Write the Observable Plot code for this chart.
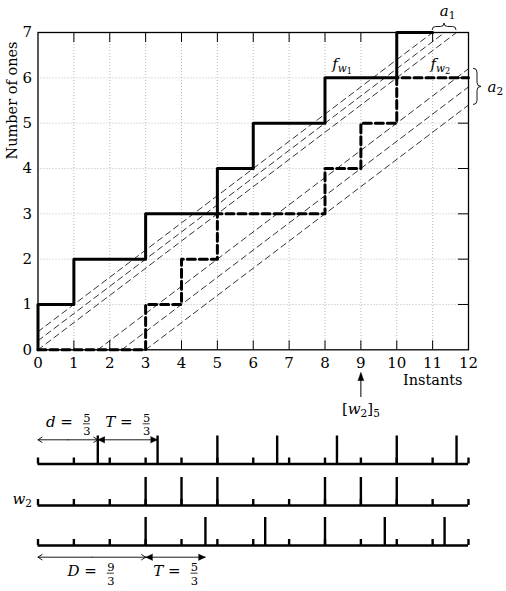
<!DOCTYPE html>
<html><head><meta charset="utf-8">
<script src="https://cdn.jsdelivr.net/npm/d3@7"></script>
<script src="https://cdn.jsdelivr.net/npm/@observablehq/plot@0.6"></script>
<style>
html,body{margin:0;padding:0;background:#fff;}
#chart svg{display:block;}
</style>
</head><body><div id="chart"></div>
<script>
// ---------------- data ----------------
const instants = [0,1,2,3,4,5,6,7,8,9,10,11,12];
const countTicks = [0,1,2,3,4,5,6,7];
const w1Jumps = [0,1,3,5,6,8,10];   // instants where f_w1 steps up
const w1End = 11;
const w2Jumps = [3,4,5,8,9,10];     // instants where f_w2 steps up
const w2End = 12;
const rate = 3/5;                   // 1 one every T = 5/3 instants
const boundOffsets = [0.4, 0.2, 0, -1, -1.4, -1.8];
const upperRowOnes = [5/3, 10/3, 15/3, 20/3, 25/3, 30/3, 35/3];
const w2RowOnes = [3,4,5,8,9,10];
const lowerRowOnes = [9/3, 14/3, 19/3, 24/3, 29/3, 34/3];
const spanVars = ["d","T","D","T"];
const spanStart = [0, 5/3, 0, 9/3];
const spanEnd = [5/3, 10/3, 9/3, 14/3];
const spanNum = ["5","5","9","5"];
const spanDen = ["3","3","3","3"];
const spanRow = [0,0,2,2];
const spanHead = ["open","filled","open","filled"];
const markedInstant = 9;

// ---------------- layout ----------------
const W = 506, H = 591, ML = 37.5, MR = 38, MT = 32, MB = 241.7;
const XMAX = 12, YMAX = 7;
const KX = XMAX / (W - ML - MR);   // data units per pixel
const KY = YMAX / (H - MT - MB);
const rowPx = [114.2, 155.7, 195.7];          // px below the x axis
const rowY = rowPx.map(p => -p * KY);
const arrowY = [rowY[0] + 24.2 * KY, null, rowY[2] - 11.7 * KY];
const labelShift = [16, null, -16];            // px (up positive)

// ---------------- derived tables ----------------
function cumulative(jumps, end) {
  const pts = [{x: 0, y: 0}];
  jumps.forEach((t, i) => pts.push({x: t, y: i + 1}));
  pts.push({x: end, y: jumps.length});
  return pts;
}
const w1Pts = cumulative(w1Jumps, w1End);
const w2Pts = cumulative(w2Jumps, w2End);

const boundPts = boundOffsets.flatMap(b => {
  const x0 = Math.max(0, -b / rate), x1 = Math.min(XMAX, (YMAX - b) / rate);
  return [{b, x: x0, y: rate * x0 + b}, {b, x: x1, y: rate * x1 + b}];
});

const inner = instants.slice(1, -1);
const innerY = countTicks.slice(1, -1);

const rowOnes = [upperRowOnes, w2RowOnes, lowerRowOnes];
const smallTicks = rowY.flatMap(y => instants.map(x => ({x, y})));
const bigTicks = rowOnes.flatMap((ones, r) => ones.map(x => ({x, y: rowY[r]})));

const spans = spanVars.map((v, i) => {
  const y = arrowY[spanRow[i]];
  return {v, x1: spanStart[i], x2: spanEnd[i], mid: (spanStart[i] + spanEnd[i]) / 2,
          y, bar: y + labelShift[spanRow[i]] * KY, num: spanNum[i], den: spanDen[i], head: spanHead[i]};
});
const openSpans = spans.filter(s => s.head === "open");
const filledSpans = spans.filter(s => s.head === "filled");
const filledHeads = filledSpans.flatMap(s => [{x: s.x1, y: s.y, rot: -90}, {x: s.x2, y: s.y, rot: 90}]);

const a1Mid = ((YMAX - boundOffsets[0]) / rate + (YMAX - boundOffsets[2]) / rate) / 2;

const black = "black";
const grid = {stroke: "#a8a8a8", strokeOpacity: 1, strokeDasharray: "1,2", strokeWidth: 0.8};

const plot = Plot.plot({
  width: W, height: H,
  marginLeft: ML, marginRight: MR, marginTop: MT, marginBottom: MB,
  x: {domain: [0, XMAX]},
  y: {domain: [0, YMAX]},
  style: {fontFamily: "'DejaVu Serif', serif", fontSize: "15px", color: "black", background: "white", overflow: "visible"},
  marks: [
    Plot.gridX(inner, grid),
    Plot.gridY(innerY, grid),
    Plot.line(boundPts, {x: "x", y: "y", z: "b", stroke: black, strokeWidth: 0.8, strokeDasharray: "6,4"}),
    Plot.line(w2Pts, {x: "x", y: "y", curve: "step-after", stroke: black, strokeWidth: 3, strokeDasharray: "8,4"}),
    Plot.line(w1Pts, {x: "x", y: "y", curve: "step-after", stroke: black, strokeWidth: 3}),
    Plot.frame({stroke: black, strokeWidth: 1.3}),
    Plot.ruleX(inner, {y1: 0, y2: 9 * KY, stroke: black, strokeWidth: 1}),
    Plot.ruleX(inner, {y1: YMAX, y2: YMAX - 10 * KY, stroke: black, strokeWidth: 1}),
    Plot.ruleY(innerY, {x1: XMAX, x2: XMAX - 10 * KX, stroke: black, strokeWidth: 1}),
    Plot.axisX(instants, {tickSize: 0, tickPadding: 8, label: null, fontSize: 15}),
    Plot.axisY(countTicks, {tickSize: 0, tickPadding: 6, label: null, fontSize: 15}),
    Plot.text([{t: "Number of ones"}], {x: () => -25.5 * KX, y: () => 5.5, text: "t", rotate: -90, fontSize: 14.5}),
    Plot.text([{t: "Instants"}], {x: () => XMAX, y: () => 0, text: "t", textAnchor: "end", dx: -6, dy: 35.5, lineAnchor: "bottom", fontSize: 14.5}),
    // curve labels
    Plot.text([{t: "f_{w_1}", x: 8.2, y: 6.19}, {t: "f_{w_2}", x: 10.94, y: 6.19}],
      {x: "x", y: "y", text: "t", textAnchor: "start", lineAnchor: "bottom", fontSize: 16.5}),
    Plot.text([{t: "a_1", x: a1Mid, y: YMAX}],
      {x: "x", y: "y", text: "t", dx: 3, dy: -17, lineAnchor: "bottom", fontSize: 16}),
    Plot.text([{t: "a_2", x: XMAX, y: 5.68}],
      {x: "x", y: "y", text: "t", dx: 19, textAnchor: "start", lineAnchor: "bottom", fontSize: 16}),
    // marked instant
    Plot.ruleX([markedInstant], {y1: -24.5 * KY, y2: -47.7 * KY, stroke: black, strokeWidth: 1}),
    Plot.vector([markedInstant], {x: d => d, y: () => 0, dy: 22.4, rotate: 0, length: 8.5, r: 3, shape: "spike", anchor: "end", fill: black, stroke: black, strokeWidth: 0.4}),
    Plot.text([{t: "[w_2]_5", x: markedInstant}], {x: "x", y: () => 0, text: "t", dy: 63.7, lineAnchor: "bottom", fontSize: 15}),
    // bottom sequences
    Plot.ruleY(rowY, {x1: 0, x2: XMAX, stroke: black, strokeWidth: 2.6}),
    Plot.ruleX(smallTicks, {x: "x", y1: "y", y2: d => d.y + 6 * KY, stroke: black, strokeWidth: 2.4}),
    Plot.ruleX(bigTicks, {x: "x", y1: "y", y2: d => d.y + 28 * KY, stroke: black, strokeWidth: 2.4}),
    Plot.text([{t: "w_2"}], {x: () => 0, y: () => rowY[1], text: "t", dx: -6, dy: -2, textAnchor: "end", lineAnchor: "bottom", fontSize: 15.5}),
    // spans
    Plot.arrow(openSpans, {x1: "mid", y1: "y", x2: "x1", y2: "y", headLength: 8, headAngle: 66, stroke: black, strokeWidth: 0.9}),
    Plot.arrow(openSpans, {x1: "mid", y1: "y", x2: "x2", y2: "y", headLength: 8, headAngle: 66, stroke: black, strokeWidth: 0.9}),
    Plot.link(filledSpans, {x1: "x1", y1: "y", x2: "x2", y2: "y", stroke: black, strokeWidth: 0.9}),
    Plot.vector(filledHeads, {x: "x", y: "y", rotate: "rot", length: 7, r: 3.2, shape: "spike", anchor: "end", fill: black, stroke: black, strokeWidth: 0.4}),
    Plot.text(spans, {x: "mid", y: "bar", text: d => d.v + " =", textAnchor: "end", dx: 5, dy: 3, lineAnchor: "bottom", fontSize: 15}),
    Plot.text(spans, {x: "mid", y: "bar", text: "num", dx: 19, dy: -2.2, lineAnchor: "bottom", fontSize: 11.5}),
    Plot.text(spans, {x: "mid", y: "bar", text: "den", dx: 19, dy: 11.6, lineAnchor: "bottom", fontSize: 11.5}),
    Plot.ruleY(spans, {y: "bar", x1: d => d.mid + 15.5 * KX, x2: d => d.mid + 22.5 * KX, stroke: black, strokeWidth: 0.8})
  ]
});

// ---------- math-style rich text ----------
const mathLabels = new Set(["f_{w_1}", "f_{w_2}", "a_1", "a_2", "[w_2]_5", "w_2", "d =", "T =", "D ="]);
function richify(textEl, s, base) {
  const segs = [];
  (function parse(str, level) {
    let i = 0;
    while (i < str.length) {
      const c = str[i];
      if (c === "_") {
        i++;
        let arg;
        if (str[i] === "{") {
          let depth = 1, j = i + 1;
          while (j < str.length && depth) { if (str[j] === "{") depth++; else if (str[j] === "}") depth--; j++; }
          arg = str.slice(i + 1, j - 1); i = j;
        } else { arg = str[i]; i++; }
        parse(arg, level + 1);
      } else {
        const italic = /[A-Za-z]/.test(c);
        const last = segs[segs.length - 1];
        if (last && last.level === level && last.italic === italic) last.text += c;
        else segs.push({text: c, level, italic});
        i++;
      }
    }
  })(s, 0);
  const sizes = [1, 0.7, 0.55], shifts = [0, 0.2, 0.3];
  const el = d3.select(textEl);
  el.text(null);
  let cur = 0;
  for (const seg of segs) {
    const off = shifts[seg.level] * base;
    el.append("tspan")
      .attr("dy", (off - cur).toFixed(2))
      .attr("font-size", (sizes[seg.level] * base).toFixed(2))
      .attr("font-style", seg.italic ? "italic" : null)
      .style("white-space", "pre")
      .text(seg.text);
    cur = off;
  }
}
d3.select(plot).selectAll("text").each(function () {
  const s = this.textContent;
  if (mathLabels.has(s)) richify(this, s, +this.getAttribute("font-size") || 15);
});

// ---------- braces (positioned through the plot's scales) ----------
const sx = plot.scale("x"), sy = plot.scale("y");
function bracePath(ax, ay, bx, by, nx, ny, h) {
  const L = Math.hypot(bx - ax, by - ay), ux = (bx - ax) / L, uy = (by - ay) / L, q = h / 2;
  const p = (a, b) => `${(ax + ux * a + nx * b).toFixed(2)},${(ay + uy * a + ny * b).toFixed(2)}`;
  return `M${p(0,0)}Q${p(0,q)} ${p(q,q)}L${p(L/2-q,q)}Q${p(L/2,q)} ${p(L/2,h)}Q${p(L/2,q)} ${p(L/2+q,q)}L${p(L-q,q)}Q${p(L,q)} ${p(L,0)}`;
}
const g = d3.select(plot).append("g").attr("fill", "none").attr("stroke", "black").attr("stroke-width", 0.9);
// a1: horizontal gap at the top between the outer bounds of f_w1
const a1x1 = sx.apply((YMAX - boundOffsets[0]) / rate), a1x2 = sx.apply((YMAX - boundOffsets[2]) / rate), a1y = sy.apply(YMAX) - 2;
g.append("path").attr("d", bracePath(a1x1, a1y, a1x2, a1y, 0, -1, 7));
// a2: vertical gap at the right between the outer bounds of f_w2
const a2x = sx.apply(XMAX) + 5, a2y1 = sy.apply(rate * XMAX + boundOffsets[3]), a2y2 = sy.apply(rate * XMAX + boundOffsets[5]);
g.append("path").attr("d", bracePath(a2x, a2y1, a2x, a2y2, 1, 0, 8));

document.getElementById("chart").appendChild(plot);
</script>
</body></html>
